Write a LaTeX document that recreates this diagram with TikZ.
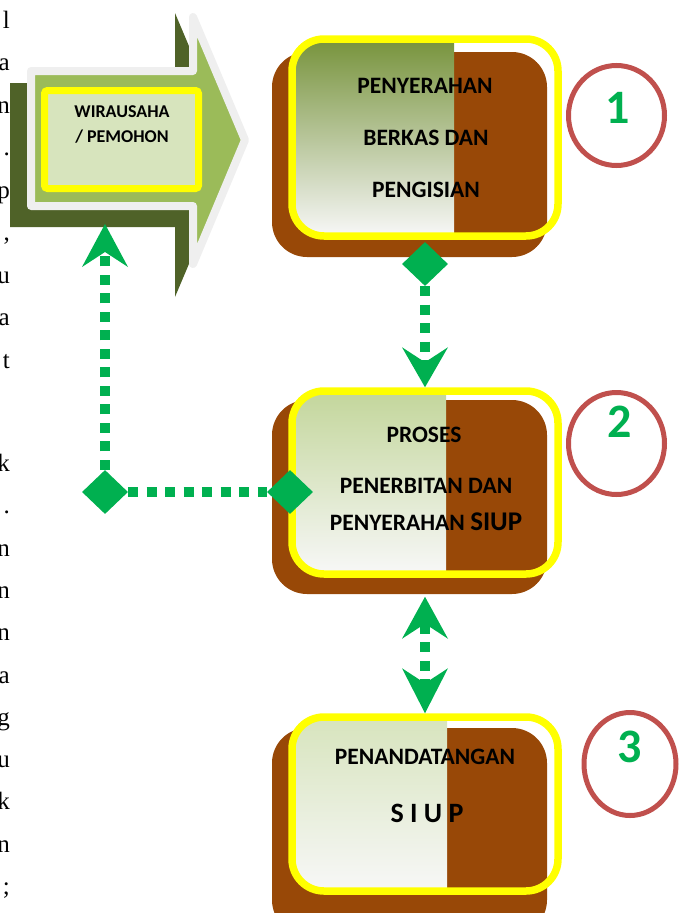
\documentclass[tikz,border=0pt]{standalone}
\usepackage{fontspec}
\setmainfont{Liberation Serif}
\newfontfamily\calib{Carlito}
\usetikzlibrary{arrows.meta,shapes.geometric}

\definecolor{olivedark}{HTML}{4F6228}
\definecolor{olivelight}{HTML}{9BBB59}
\definecolor{rimgray}{HTML}{EFEFEF}
\definecolor{palegreen}{HTML}{D7E4BD}
\definecolor{yel}{HTML}{FFFF00}
\definecolor{brownsh}{HTML}{984807}
\definecolor{stepgreenA}{HTML}{77933C}
\definecolor{stepgreenB}{HTML}{C3D69B}
\definecolor{stepgreenC}{HTML}{D7E4BD}
\definecolor{lgreen}{HTML}{00B050}
\definecolor{ringred}{HTML}{C0504D}

\begin{document}
\begin{tikzpicture}[x=1pt,y=-1pt,
    edgeletter/.style={font=\fontsize{25}{30}\selectfont, anchor=base east, inner sep=0pt},
    arrowrim/.style={draw=rimgray, fill=olivelight, line width=8pt, line join=round},
    wirabox/.style={draw=yel, fill=palegreen, line width=7pt, rounded corners=3pt,
        minimum width=154pt, minimum height=98pt, inner sep=0pt},
    wiratext/.style={font=\calib\bfseries\fontsize{18}{21}\selectfont, anchor=base, inner sep=0pt},
    shadowbox/.style={fill=brownsh, rounded corners=35pt, minimum width=275pt, inner sep=0pt},
    yelframe/.style={draw=yel, line width=7.5pt, rounded corners=32pt, minimum width=266pt, inner sep=0pt},
    boxtext/.style={font=\calib\bfseries\fontsize{23.5}{28}\selectfont, anchor=base, inner sep=0pt},
    numring/.style={ellipse, draw=ringred, line width=5pt, inner sep=0pt},
    numtext/.style={font=\calib\bfseries\fontsize{48}{54}\selectfont, text=lgreen, anchor=base, inner sep=0pt},
    joint/.style={diamond, fill=lgreen, minimum width=46pt, minimum height=44pt, inner sep=0pt},
    dotline/.style={lgreen, line width=10pt, dash pattern=on 10pt off 8.5pt},
    uptip/.style={arrows={-Stealth[length=43pt,width=46pt,inset=15pt,line width=0pt]}},
    downtip/.style={arrows={-Stealth[length=40pt,width=46pt,inset=15pt,line width=0pt]}},
    bothtips/.style={arrows={Stealth[length=42pt,width=46pt,inset=15pt,line width=0pt]-Stealth[length=45pt,width=46pt,inset=15pt,line width=0pt]}}]
\useasboundingbox (0,0) rectangle (680,913);

% line ends of the page text beside the chart
\foreach \yy/\ch in {28/l,70/a,113/n,155/.,198/p,240/{,},283/u,325/a,368/t,
    471/k,513/.,556/n,598/n,640/n,683/a,725/g,767/u,809/k,852/n,894/;}
  \node[edgeletter] (e\yy) at (10,\yy) {\ch};

% applicant arrow
\fill[olivedark] (10,83) -- (175,83) -- (175,13) -- (235,155) -- (175,297) -- (175,227) -- (10,227) -- cycle;
\draw[arrowrim] (31,71) -- (193,71) -- (193,17) -- (245,140) -- (193,264) -- (193,206) -- (31,206) -- cycle;
\node[wirabox] (wira) at (121.5,139.5) {};
\node[wiratext] (wira1) at (122,117) {WIRAUSAHA};
\node[wiratext] (wira2) at (122,142) {/ PEMOHON};

% step 1
\node[shadowbox, minimum height=205pt] (s1) at (409.5,154.5) {};
\begin{scope}
  \clip[rounded corners=32pt] (292,39) rectangle (558,236);
  \shade[top color=stepgreenA, bottom color=white!97!black] (292,39) rectangle (454,236);
\end{scope}
\node[yelframe, minimum height=197pt] (b1) at (425,137.5) {};
\node[boxtext] (b1a) at (425,93) {PENYERAHAN};
\node[boxtext] (b1b) at (426,145) {BERKAS DAN};
\node[boxtext] (b1c) at (426,197) {PENGISIAN};

% step 2
\node[shadowbox, minimum height=194pt] (s2) at (409.5,497) {};
\begin{scope}
  \clip[rounded corners=32pt] (292,391) rectangle (558,574);
  \shade[top color=stepgreenB, bottom color=white!97!black] (292,391) rectangle (446,574);
\end{scope}
\node[yelframe, minimum height=183pt] (b2) at (425,482.5) {};
\node[boxtext] (b2a) at (424,442) {PROSES};
\node[boxtext] (b2b) at (426,493) {PENERBITAN DAN};
\node[boxtext] (b2c) at (426,530) {PENYERAHAN {\fontsize{27}{30}\selectfont SIUP}};

% step 3
\node[shadowbox, minimum height=207pt] (s3) at (409.5,831.5) {};
\begin{scope}
  \clip[rounded corners=32pt] (292,717) rectangle (558,891);
  \shade[top color=stepgreenC, bottom color=white!97!black] (292,717) rectangle (447,891);
\end{scope}
\node[yelframe, minimum height=174pt] (b3) at (425,804) {};
\node[boxtext] (b3a) at (425,764) {PENANDATANGAN};
\node[boxtext, font=\calib\bfseries\fontsize{28}{32}\selectfont] (b3b) at (427,822) {S I U P};

% step numbers
\node[numring, minimum width=96pt, minimum height=100pt] (r1) at (616.5,115.5) {};
\node[numtext] (n1) at (618,123) {1};
\node[numring, minimum width=96pt, minimum height=102pt] (r2) at (616.5,443.5) {};
\node[numtext] (n2) at (619.5,437) {2};
\node[numring, minimum width=92pt, minimum height=103pt] (r3) at (630,764) {};
\node[numtext] (n3) at (630,762) {3};

% connectors
\node[joint] (j1) at (425,264) {};
\node[joint] (jL) at (105,492) {};
\node[joint] (jR) at (290,492) {};
\coordinate (wfoot) at (105,224);
\path[dotline]
  (j1) edge[downtip] (b2)
  (b2) edge[bothtips, shorten <=19pt] (b3)
  (jL) edge[uptip] (wfoot)
       edge (jR);
\end{tikzpicture}
\end{document}
